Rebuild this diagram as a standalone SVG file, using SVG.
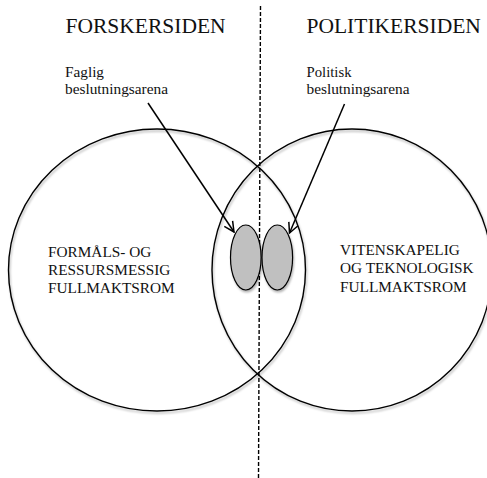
<svg xmlns="http://www.w3.org/2000/svg" width="487" height="478" viewBox="0 0 487 478">
<style>
text{font-family:"Liberation Serif","Times New Roman",serif;fill:#111}
.h{font-size:21.5px}
.s{font-size:15.3px}
.l{font-size:14px}
.c{fill:none;stroke:#000;stroke-width:1.4}
.e{fill:#c0c0c0;stroke:#000;stroke-width:1.2}
.a{fill:none;stroke:#000;stroke-width:1.5}
</style>
<defs>
<filter id="sh" x="-10%" y="-10%" width="130%" height="130%">
<feDropShadow dx="1" dy="2" stdDeviation="1.3" flood-color="#000" flood-opacity="0.3"/>
</filter>
<marker id="ar" viewBox="0 0 12 12" refX="11" refY="6" markerWidth="12" markerHeight="12" markerUnits="userSpaceOnUse" orient="auto">
<path d="M1,1 L11,6 L1,11" fill="none" stroke="#000" stroke-width="1.5"/>
</marker>
</defs>
<rect width="487" height="478" fill="#fff"/>
<g id="headers">
<text class="h" x="65.5" y="32.5">FORSKERSIDEN</text>
<text class="h" x="306.5" y="32.5">POLITIKERSIDEN</text>
</g>
<g id="left-circle">
<ellipse class="c" cx="157" cy="270" rx="148.5" ry="141" filter="url(#sh)"/>
<text class="s" x="48" y="257">FORMÅLS- OG</text>
<text class="s" x="48" y="275">RESSURSMESSIG</text>
<text class="s" x="48" y="293">FULLMAKTSROM</text>
</g>
<g id="right-circle">
<ellipse class="c" cx="352" cy="270" rx="140" ry="141" filter="url(#sh)"/>
<text class="s" x="340" y="254.5">VITENSKAPELIG</text>
<text class="s" x="340" y="273">OG TEKNOLOGISK</text>
<text class="s" x="340" y="291.5">FULLMAKTSROM</text>
</g>
<g id="divider">
<line x1="260.5" y1="6" x2="258.5" y2="478" stroke="#000" stroke-width="1.4" stroke-dasharray="4,2"/>
</g>
<g id="faglig-arena">
<ellipse class="e" cx="245.8" cy="257.5" rx="15.3" ry="32.5" filter="url(#sh)"/>
<text class="l" x="65" y="77" textLength="39" lengthAdjust="spacingAndGlyphs">Faglig</text>
<text class="l" x="65" y="93.5" textLength="103" lengthAdjust="spacingAndGlyphs">beslutningsarena</text>
</g>
<g id="politisk-arena">
<ellipse class="e" cx="277.3" cy="257.5" rx="15.3" ry="32.5" filter="url(#sh)"/>
<text class="l" x="306.5" y="77" textLength="45" lengthAdjust="spacingAndGlyphs">Politisk</text>
<text class="l" x="306.5" y="93.5" textLength="103" lengthAdjust="spacingAndGlyphs">beslutningsarena</text>
</g>
<g id="connectors">
<line class="a" x1="148" y1="103" x2="234" y2="232" marker-end="url(#ar)"/>
<line class="a" x1="344.5" y1="104" x2="289.5" y2="233" marker-end="url(#ar)"/>
</g>
</svg>
